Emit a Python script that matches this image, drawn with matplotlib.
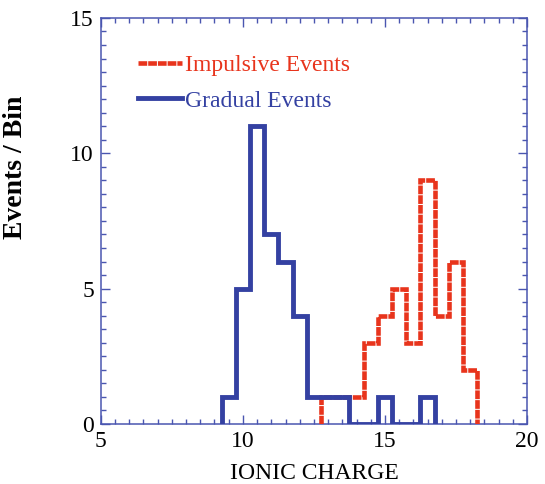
import matplotlib
matplotlib.use("Agg")
import matplotlib.pyplot as plt
import numpy as np
from matplotlib.ticker import MultipleLocator
from matplotlib.lines import Line2D

gradual_edges = [9.25, 9.75, 10.25, 10.75, 11.25, 11.75, 12.25, 12.75, 13.25,
                 13.75, 14.25, 14.75, 15.25, 15.75, 16.25, 16.75]
gradual_counts = [1, 5, 11, 7, 6, 4, 1, 1, 1, 0, 0, 1, 0, 0, 1]

impulsive_edges = [12.75, 13.25, 13.75, 14.25, 14.75, 15.25, 15.75, 16.25,
                   16.75, 17.25, 17.75, 18.25]
impulsive_counts = [1, 1, 1, 3, 4, 5, 3, 9, 4, 6, 2]

xlabel = "IONIC CHARGE"
ylabel = "Events / Bin"
labels = ["Impulsive Events", "Gradual Events"]

blue = "#3441A2"
red = "#E8341C"
axis_blue = "#4A56B0"

plt.rcParams['font.family'] = ['Liberation Serif', 'DejaVu Serif']
fig = plt.figure(figsize=(5.45, 4.84), dpi=100)
ax = fig.add_axes([0.185, 0.124, 0.782, 0.839])

red_ls = (0, (1.9, 0.22))
ax.stairs(impulsive_counts, impulsive_edges, baseline=0, color=red,
          linewidth=3.3, linestyle=red_ls, zorder=3)
ax.stairs(gradual_counts, gradual_edges, baseline=0, color=blue,
          linewidth=3.5, zorder=4)

ax.set_xlim(5, 20)
ax.set_ylim(0, 15)
ax.xaxis.set_major_locator(MultipleLocator(5))
ax.xaxis.set_minor_locator(MultipleLocator(0.5))
ax.yaxis.set_major_locator(MultipleLocator(5))
ax.yaxis.set_minor_locator(MultipleLocator(0.5))
ax.tick_params(which='both', direction='in', top=True, right=True,
               color=axis_blue, labelsize=17, labelcolor='black', width=1)
ax.tick_params(which='major', length=6.5, pad=5)
ax.tick_params(which='minor', length=3.5)
for s in ax.spines.values():
    s.set_color(axis_blue)
    s.set_linewidth(1.1)

ax.set_xlabel(xlabel, fontsize=17, labelpad=8)
ax.set_ylabel(ylabel, fontsize=20, fontweight='bold')
ax.yaxis.set_label_coords(-0.171, 0.633)

hl = [Line2D([], [], color=red, linewidth=3.3, linestyle=red_ls),
      Line2D([], [], color=blue, linewidth=3.5)]
leg = ax.legend(hl, labels, loc='upper left', bbox_to_anchor=(0.087, 0.91),
                frameon=False, fontsize=17, handlelength=1.85, handletextpad=0.15,
                labelspacing=0.6, borderaxespad=0, borderpad=0)
for t, c in zip(leg.get_texts(), [red, blue]):
    t.set_color(c)

fig.savefig("out.png", dpi=100)
